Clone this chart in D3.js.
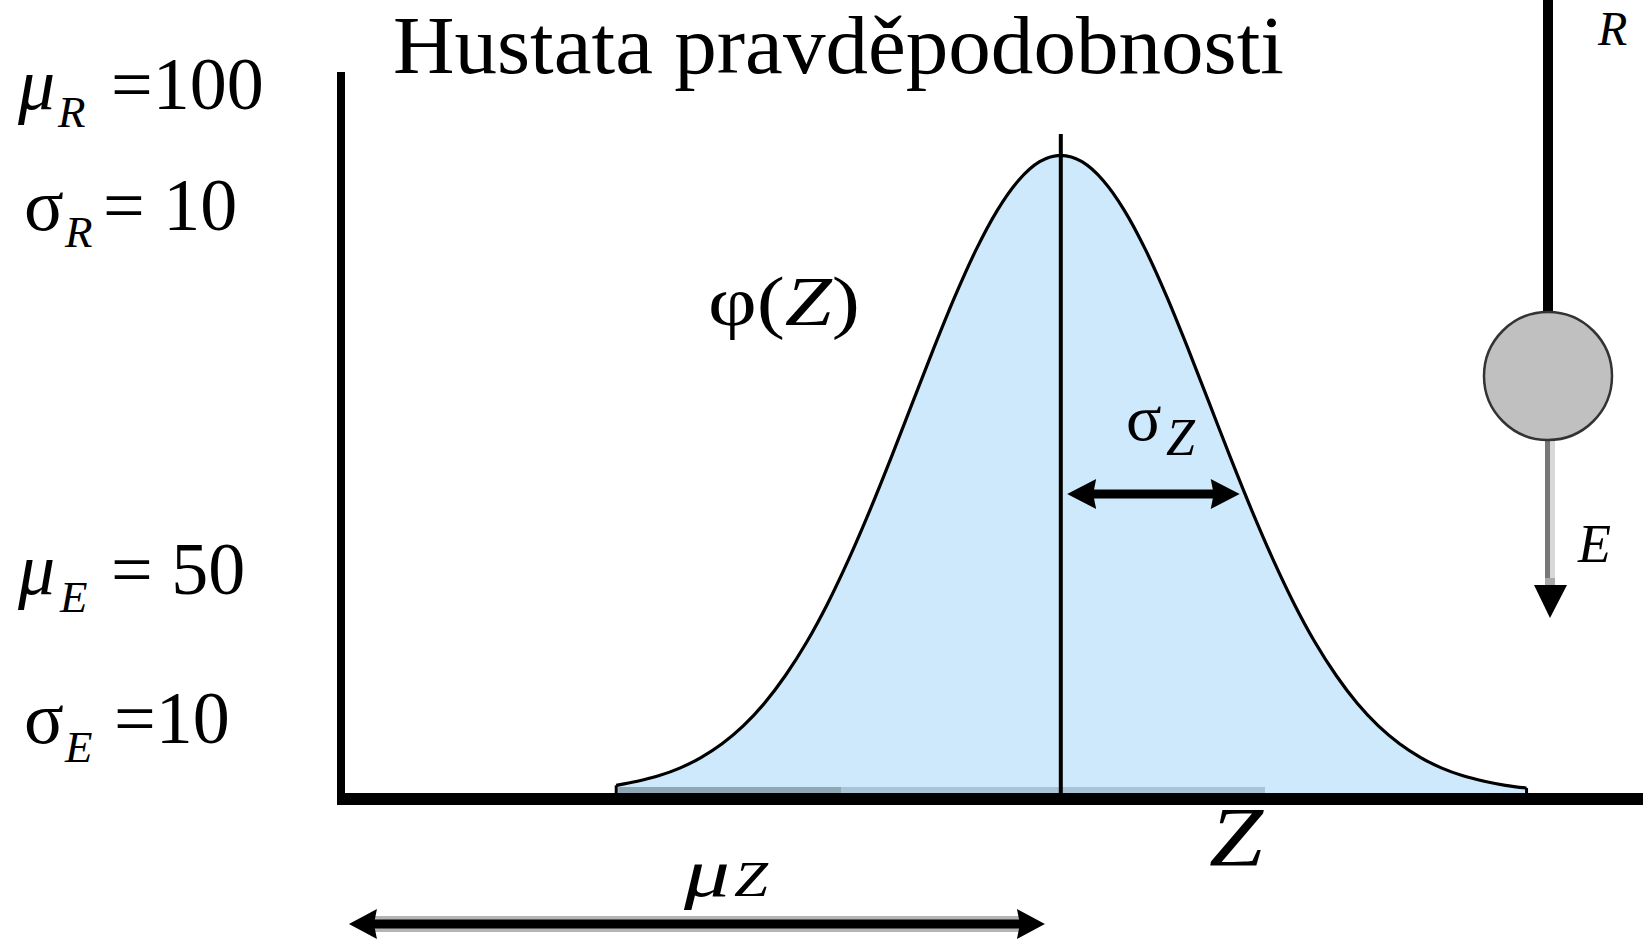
<!DOCTYPE html>
<html><head><meta charset="utf-8">
<script src="https://cdn.jsdelivr.net/npm/d3@7"></script>
<style>html,body{margin:0;padding:0;background:#fff;overflow:hidden}svg{display:block}</style>
</head><body>
<script>
// ---- data ----
const zValues = [8,10,12,14,16,18,20,22,24,26,28,30,32,34,36,38,40,42,44,46,48,50,52,54,56,58,60,62,64,66,68,70,72,74,76,78,80,82,84,86,88,90,92,94];
const densityValues = [0.00034,0.00052,0.00076,0.00110,0.00157,0.00218,0.00297,0.00397,0.00521,0.00668,0.00841,0.01038,0.01255,0.01487,0.01728,0.01968,0.02197,0.02404,0.02578,0.02710,0.02793,0.02821,0.02793,0.02710,0.02578,0.02404,0.02197,0.01968,0.01728,0.01487,0.01255,0.01038,0.00841,0.00668,0.00521,0.00397,0.00297,0.00218,0.00157,0.00110,0.00076,0.00052,0.00034,0.00022];
const muZ = 50;
const sigmaArrowZ = [50.6, 66.9];
const muArrowZ = [-17.25, 48.5];
const xDomain = [-18, 105];
const yDomain = [0, 0.0319];
const titleText = "Hustata pravděpodobnosti";
const paramSymbols = ["μ", "σ", "μ", "σ"];
const paramSubs = ["R", "R", "E", "E"];
const paramValues = ["=100", "= 10", "= 50", "=10"];

// ---- drawing ----
const W = 1643, H = 945;
const svg = d3.select("body").append("svg").attr("width", W).attr("height", H);
const serif = "'Liberation Serif','Times New Roman',serif";

const x = d3.scaleLinear().domain(xDomain).range([341, 1643]);
const y = d3.scaleLinear().domain(yDomain).range([793, 72]);

const pts = zValues.map((z, i) => ({z, d: densityValues[i]}));

// area fill
const area = d3.area().x(p => x(p.z)).y0(y(0)).y1(p => y(p.d)).curve(d3.curveMonotoneX);
svg.append("path").datum(pts).attr("d", area).attr("fill", "#cde9fb");

// subtle strips at bottom of the fill
svg.append("rect").attr("x", x(zValues[0]) + 2).attr("y", y(0) - 6).attr("width", 841 - x(zValues[0]) - 2).attr("height", 6).attr("fill", "#8fa6b5");
svg.append("rect").attr("x", 841).attr("y", y(0) - 6).attr("width", 1265 - 841).attr("height", 6).attr("fill", "#a9c4d6");

// outline
const first = pts[0], last = pts[pts.length - 1];
const line = d3.line().x(p => x(p.z)).y(p => y(p.d)).curve(d3.curveMonotoneX);
svg.append("path").datum(pts).attr("d", line).attr("fill", "none").attr("stroke", "#000").attr("stroke-width", 3.2);
svg.append("line").attr("x1", x(first.z)).attr("x2", x(first.z)).attr("y1", y(first.d)).attr("y2", y(0)).attr("stroke", "#000").attr("stroke-width", 3);
svg.append("line").attr("x1", x(last.z)).attr("x2", x(last.z)).attr("y1", y(last.d)).attr("y2", y(0)).attr("stroke", "#000").attr("stroke-width", 3);

// mean line
svg.append("line").attr("x1", x(muZ)).attr("x2", x(muZ)).attr("y1", 134).attr("y2", y(0))
  .attr("stroke", "#000").attr("stroke-width", 4);

// axes
svg.append("line").attr("x1", x(xDomain[0]) - 4).attr("x2", W).attr("y1", y(0) + 6).attr("y2", y(0) + 6)
  .attr("stroke", "#000").attr("stroke-width", 12);
svg.append("line").attr("x1", x(xDomain[0])).attr("x2", x(xDomain[0])).attr("y1", y(yDomain[1])).attr("y2", y(0) + 12)
  .attr("stroke", "#000").attr("stroke-width", 8);

// arrows
function arrow(x1, x2, yy, headLen, headHalf, shaftW, halo) {
  const g = svg.append("g");
  if (halo) g.append("line").attr("x1", x1 + headLen - 2).attr("x2", x2 - headLen + 2).attr("y1", yy).attr("y2", yy)
    .attr("stroke", "#b4b4b4").attr("stroke-width", shaftW + 7);
  g.append("line").attr("x1", x1 + headLen - 4).attr("x2", x2 - headLen + 4).attr("y1", yy).attr("y2", yy)
    .attr("stroke", "#000").attr("stroke-width", shaftW);
  g.append("path").attr("d", `M${x1},${yy}L${x1 + headLen},${yy - headHalf}L${x1 + headLen - 3},${yy}L${x1 + headLen},${yy + headHalf}Z`).attr("fill", "#000");
  g.append("path").attr("d", `M${x2},${yy}L${x2 - headLen},${yy - headHalf}L${x2 - headLen + 3},${yy}L${x2 - headLen},${yy + headHalf}Z`).attr("fill", "#000");
}
arrow(x(sigmaArrowZ[0]), x(sigmaArrowZ[1]), 494, 29, 15, 9, false);
arrow(x(muArrowZ[0]), x(muArrowZ[1]), 924, 28, 15, 9, true);

// title
svg.append("text").attr("x", 393).attr("y", 73).attr("font-family", serif).attr("font-size", 83)
  .attr("textLength", 891).attr("lengthAdjust", "spacingAndGlyphs").text(titleText);

// parameter labels
const lay = [
  {sx: 18, base: 109, subX: 58, subBase: 127, valX: 111, italic: true},
  {sx: 24, base: 230, subX: 65, subBase: 247, valX: 103, italic: false},
  {sx: 18, base: 594, subX: 60, subBase: 612, valX: 111, italic: true},
  {sx: 24, base: 743, subX: 65, subBase: 762, valX: 114, italic: false}
];
paramSymbols.forEach((s, i) => {
  const L = lay[i];
  svg.append("text").attr("x", L.sx).attr("y", L.base).attr("font-family", serif).attr("font-size", 74)
    .attr("font-style", L.italic ? "italic" : "normal").text(s);
  svg.append("text").attr("x", L.subX).attr("y", L.subBase).attr("font-family", serif).attr("font-size", 45)
    .attr("font-style", "italic").text(paramSubs[i]);
  svg.append("text").attr("x", L.valX).attr("y", L.base).attr("font-family", serif).attr("font-size", 74)
    .text(paramValues[i]);
});

// phi(Z)
const phi = svg.append("text").attr("x", 708).attr("y", 325).attr("font-family", serif).attr("font-size", 70)
  .attr("textLength", 152).attr("lengthAdjust", "spacingAndGlyphs");
phi.append("tspan").text("φ(");
phi.append("tspan").attr("font-style", "italic").text("Z");
phi.append("tspan").text(")");

// sigma_Z
svg.append("text").attr("x", 1126).attr("y", 440).attr("font-family", serif).attr("font-size", 66).text("σ");
svg.append("text").attr("x", 1166).attr("y", 455).attr("font-family", serif).attr("font-size", 52).attr("font-style", "italic").text("Z");

// Z axis label
svg.append("text").attr("x", 1209).attr("y", 866).attr("font-family", serif).attr("font-size", 84).attr("font-style", "italic")
  .attr("textLength", 54).attr("lengthAdjust", "spacingAndGlyphs").text("Z");

// mu Z label
svg.append("text").attr("x", 684).attr("y", 896).attr("font-family", serif).attr("font-size", 68).attr("font-style", "italic")
  .attr("textLength", 46).attr("lengthAdjust", "spacingAndGlyphs").text("μ");
svg.append("text").attr("x", 734).attr("y", 896).attr("font-family", serif).attr("font-size", 50).attr("font-style", "italic")
  .attr("textLength", 34).attr("lengthAdjust", "spacingAndGlyphs").text("Z");

// pendulum
svg.append("rect").attr("x", 1543).attr("y", 0).attr("width", 10).attr("height", 314).attr("fill", "#000");
svg.append("rect").attr("x", 1545).attr("y", 438).attr("width", 5).attr("height", 140).attr("fill", "#777");
svg.append("rect").attr("x", 1550).attr("y", 438).attr("width", 5).attr("height", 140).attr("fill", "#d8d8d8");
svg.append("rect").attr("x", 1545).attr("y", 578).attr("width", 10).attr("height", 8).attr("fill", "#aaa");
svg.append("path").attr("d", "M1534,585L1567,585L1550,618Z").attr("fill", "#000");
svg.append("circle").attr("cx", 1548).attr("cy", 376).attr("r", 64).attr("fill", "#c0c0c0").attr("stroke", "#333").attr("stroke-width", 2.5);
svg.append("text").attr("x", 1578).attr("y", 562).attr("font-family", serif).attr("font-size", 54).attr("font-style", "italic").text("E");
svg.append("text").attr("x", 1598).attr("y", 45).attr("font-family", serif).attr("font-size", 48).attr("font-style", "italic").text("R");
</script>
</body></html>
